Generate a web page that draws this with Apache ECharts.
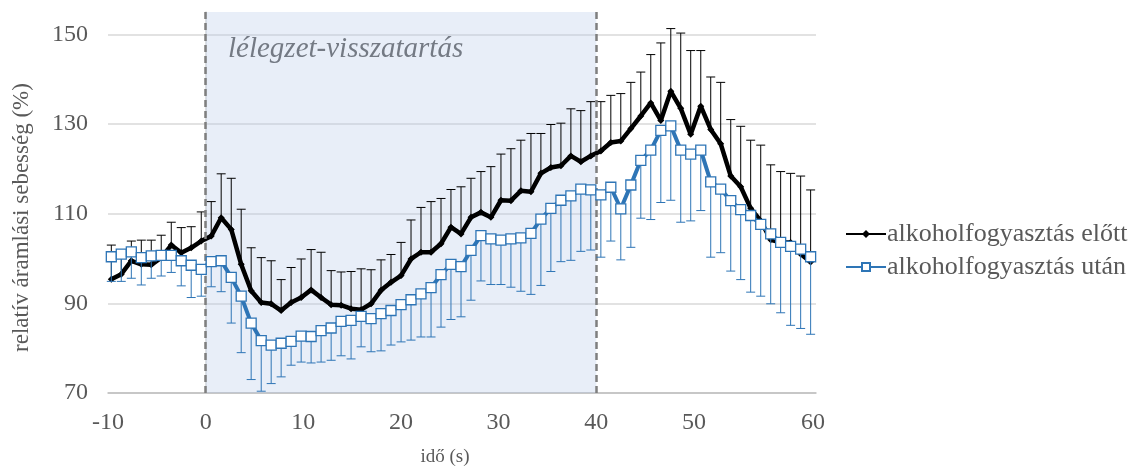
<!DOCTYPE html>
<html>
<head>
<meta charset="utf-8">
<script src="https://cdn.jsdelivr.net/npm/echarts@6/dist/echarts.min.js"></script>
<style>
  html, body { margin: 0; padding: 0; background: #fff; }
  #chart { width: 1133px; height: 466px; }
</style>
</head>
<body>
<div id="chart"></div>
<script>
// time of each measurement (s)
var times = [-9.66, -8.64, -7.61, -6.59, -5.57, -4.55, -3.52, -2.50, -1.48, -0.45,
  0.57, 1.59, 2.62, 3.64, 4.66, 5.69, 6.71, 7.73, 8.75, 9.78,
  10.80, 11.82, 12.85, 13.87, 14.89, 15.92, 16.94, 17.96, 18.98, 20.01,
  21.03, 22.05, 23.08, 24.10, 25.12, 26.15, 27.17, 28.19, 29.21, 30.24,
  31.26, 32.28, 33.31, 34.33, 35.35, 36.38, 37.40, 38.42, 39.44, 40.47,
  41.49, 42.51, 43.54, 44.56, 45.58, 46.61, 47.63, 48.65, 49.67, 50.70,
  51.72, 52.74, 53.77, 54.79, 55.81, 56.84, 57.86, 58.88, 59.90, 60.93, 61.95];

// alkoholfogyasztás előtt: mean and top of error bar
var beforeMean = [95.4, 96.5, 99.5, 98.7, 98.6, 100.2, 103.0, 101.3, 102.4, 103.9,
  105.0, 109.1, 106.5, 98.7, 92.8, 90.2, 89.9, 88.4, 90.2, 91.3,
  93.0, 91.3, 89.7, 89.6, 88.8, 88.6, 89.9, 92.9, 94.7, 96.2,
  99.9, 101.4, 101.4, 103.3, 107.0, 105.5, 109.2, 110.3, 109.2, 113.0,
  112.9, 115.1, 114.9, 119.0, 120.3, 120.7, 122.9, 121.6, 122.9, 124.0,
  125.9, 126.2, 129.0, 131.8, 134.7, 130.8, 137.3, 133.5, 127.7, 134.0,
  128.8, 125.6, 118.4, 116.0, 111.2, 108.4, 104.2, 103.6, 103.6, 101.0, 99.2];
var beforeUpper = [103.0, 100.5, 103.9, 104.1, 104.1, 105.2, 108.1, 106.9, 107.1, 110.4,
  112.7, 118.9, 117.9, 111.0, 102.4, 100.2, 99.5, 95.3, 98.0, 99.9,
  102.0, 101.4, 97.3, 97.0, 97.1, 97.7, 97.5, 99.7, 100.9, 103.6,
  108.6, 111.4, 112.7, 113.4, 115.4, 116.0, 117.9, 119.4, 120.5, 123.3,
  124.5, 126.4, 127.9, 127.9, 129.9, 130.2, 133.4, 133.0, 135.0, 135.0,
  136.4, 136.8, 139.3, 141.6, 145.5, 148.1, 151.3, 150.3, 146.4, 146.4,
  140.5, 139.3, 131.0, 129.5, 126.4, 125.3, 120.9, 119.4, 119.0, 118.4, 115.3];

// alkoholfogyasztás után: mean and bottom of error bar
var afterMean = [100.4, 101.0, 101.5, 100.2, 100.6, 100.7, 100.7, 99.5, 98.5, 97.6,
  99.3, 99.5, 95.8, 91.6, 85.6, 81.7, 80.7, 81.1, 81.5, 82.7,
  82.6, 83.9, 84.5, 86.0, 86.2, 87.1, 86.6, 87.7, 88.4, 89.7,
  90.8, 92.1, 93.5, 96.4, 98.7, 98.2, 101.8, 105.1, 104.4, 104.1,
  104.4, 104.6, 105.6, 108.8, 111.2, 113.0, 114.0, 115.5, 115.3, 114.2,
  115.9, 111.1, 116.4, 121.9, 124.2, 128.6, 129.6, 124.2, 123.3, 124.2,
  117.1, 115.5, 112.9, 110.9, 109.6, 107.6, 105.5, 103.6, 102.7, 102.1, 100.4];
var afterLower = [94.9, 94.9, 95.6, 94.1, 95.6, 96.1, 96.9, 93.9, 91.3, 91.6,
  93.7, 92.6, 85.6, 79.0, 73.0, 70.4, 72.1, 73.6, 76.2, 76.9,
  76.7, 76.9, 77.3, 78.3, 77.6, 80.3, 79.2, 79.4, 80.7, 81.4,
  81.8, 82.5, 82.5, 84.7, 86.4, 87.0, 90.7, 95.0, 94.2, 94.2,
  93.6, 92.7, 92.0, 94.0, 97.1, 99.3, 99.6, 101.6, 101.9, 100.3,
  103.9, 99.7, 102.5, 109.0, 108.7, 112.5, 113.0, 108.1, 108.4, 110.7,
  100.3, 101.3, 97.2, 95.3, 92.5, 91.6, 89.9, 87.9, 85.1, 84.4, 83.1];

// x tick labels and where they sit on the time axis
var xTickValues = [-10, 0, 10, 20, 30, 40, 50, 62.2];
var xTickLabels = ['-10', '0', '10', '20', '30', '40', '50', '60'];

var seriesNames = ['alkoholfogyasztás előtt', 'alkoholfogyasztás után'];
var holdStart = 0, holdEnd = 40;
var holdLabel = 'lélegzet-visszatartás';

var fontFamily = '"Liberation Serif", "Times New Roman", serif';
var textColor = '#595959';
var blue = '#2E75B6';

function pairs(xs, ys) {
  return xs.map(function (x, i) { return [x, ys[i]]; });
}
function bars(xs, a, b) {
  return xs.map(function (x, i) { return [x, a[i], b[i]]; });
}

// draws a vertical error bar with a cap at its far end
function errorBar(color) {
  return function (params, api) {
    var p0 = api.coord([api.value(0), api.value(1)]);
    var p1 = api.coord([api.value(0), api.value(2)]);
    var style = { stroke: color, lineWidth: 1 };
    return {
      type: 'group',
      children: [
        { type: 'line', shape: { x1: p0[0], y1: p0[1], x2: p1[0], y2: p1[1] }, style: style },
        { type: 'line', shape: { x1: p1[0] - 4.5, y1: p1[1], x2: p1[0] + 4.5, y2: p1[1] }, style: style }
      ]
    };
  };
}

var chart = echarts.init(document.getElementById('chart'));
var option = {
  animation: false,
  textStyle: { fontFamily: fontFamily },
  grid: { left: 108, right: 317, top: 12, bottom: 73, outerBoundsMode: 'none' },
  legend: {
    data: seriesNames,
    orient: 'vertical',
    left: 840,
    top: 216,
    itemWidth: 40,
    itemHeight: 10,
    itemGap: 7,
    textStyle: { fontFamily: fontFamily, fontSize: 26, color: textColor, padding: [0, 0, 0, -4] }
  },
  xAxis: {
    type: 'value',
    min: -10,
    max: 62.5,
    name: 'idő (s)',
    nameLocation: 'middle',
    nameGap: 55,
    nameTextStyle: { fontFamily: fontFamily, fontSize: 19, color: textColor, padding: [0, 34, 0, 0] },
    axisLine: { show: true, lineStyle: { color: '#BFBFBF', width: 1.5 } },
    axisTick: { show: false },
    splitLine: { show: false },
    axisLabel: {
      fontFamily: fontFamily, fontSize: 24, color: textColor, margin: 18,
      customValues: xTickValues,
      formatter: function (v) {
        var i = xTickValues.indexOf(v);
        return i < 0 ? '' : xTickLabels[i];
      }
    }
  },
  yAxis: {
    type: 'value',
    min: 70,
    max: 155,
    interval: 20,
    name: 'relatív áramlási sebesség (%)',
    nameLocation: 'middle',
    nameGap: 75,
    nameTextStyle: { fontFamily: fontFamily, fontSize: 23, color: textColor, padding: [0, 30, 0, 0] },
    axisLine: { show: true, lineStyle: { color: '#D9D9D9', width: 1.5 } },
    axisTick: { show: false },
    splitLine: { show: true, showMaxLine: false, lineStyle: { color: '#D9D9D9', width: 1.5 } },
    axisLabel: { fontFamily: fontFamily, fontSize: 24, color: textColor, margin: 20, showMaxLabel: false }
  },
  graphic: [{
    type: 'text',
    left: 228,
    top: 35,
    style: {
      text: holdLabel,
      font: 'italic 29px ' + fontFamily,
      fill: textColor
    }
  }],
  series: [
    {
      name: 'hold',
      type: 'line',
      data: [],
      silent: true,
      markArea: {
        silent: true,
        itemStyle: { color: 'rgba(180, 199, 231, 0.3)' },
        data: [[{ xAxis: holdStart }, { xAxis: holdEnd }]]
      },
      markLine: {
        silent: true,
        symbol: 'none',
        label: { show: false },
        lineStyle: { color: '#7F7F7F', width: 2.5, type: [7, 4] },
        data: [{ xAxis: holdStart }, { xAxis: holdEnd }]
      }
    },
    {
      name: 'beforeErr',
      type: 'custom',
      renderItem: errorBar('#000'),
      data: bars(times, beforeMean, beforeUpper),
      encode: { x: 0, y: [1, 2] },
      z: 3
    },
    {
      name: seriesNames[0],
      type: 'line',
      data: pairs(times, beforeMean),
      symbol: 'diamond',
      symbolSize: 7,
      color: '#000',
      lineStyle: { width: 4.5, color: '#000' },
      itemStyle: { color: '#000' },
      z: 4
    },
    {
      name: 'afterErr',
      type: 'custom',
      renderItem: errorBar(blue),
      data: bars(times, afterMean, afterLower),
      encode: { x: 0, y: [1, 2] },
      z: 5
    },
    {
      name: seriesNames[1],
      type: 'line',
      data: pairs(times, afterMean),
      symbol: 'rect',
      symbolSize: 10,
      showAllSymbol: true,
      color: blue,
      lineStyle: { width: 4, color: blue },
      itemStyle: { color: '#fff', borderColor: blue, borderWidth: 1.3 },
      z: 6
    }
  ]
};
chart.setOption(option);
</script>
</body>
</html>
